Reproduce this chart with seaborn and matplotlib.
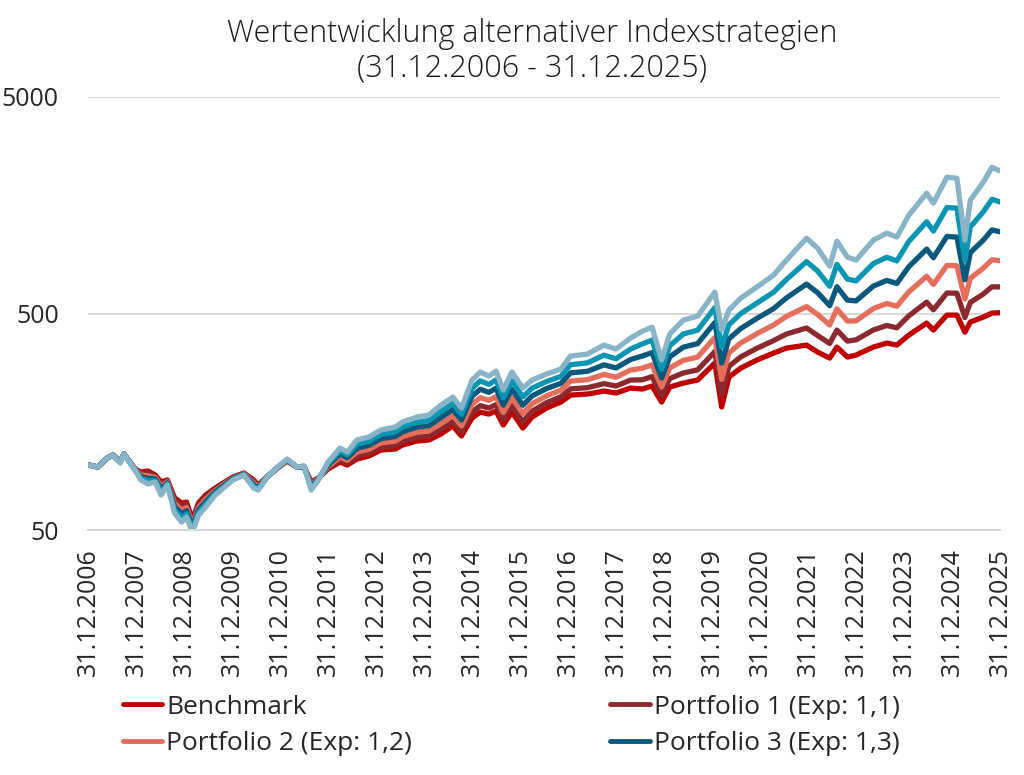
import pandas as pd
import seaborn as sns
import matplotlib.pyplot as plt
import matplotlib.dates as mdates
from matplotlib.lines import Line2D
from matplotlib.ticker import FixedLocator, NullLocator


dates = [
  "2006-12-31", "2007-03-15", "2007-05-27", "2007-07-09", "2007-09-02", "2007-10-01", "2007-12-24",
  "2008-02-06", "2008-04-01", "2008-05-26", "2008-07-09", "2008-08-26", "2008-10-20", "2008-12-13",
  "2009-01-19", "2009-03-04", "2009-04-20", "2009-06-13", "2009-08-25", "2009-11-06",
  "2010-01-08", "2010-04-01", "2010-06-13", "2010-07-19", "2010-10-01", "2010-12-31",
  "2011-02-24", "2011-05-08", "2011-07-02", "2011-08-26", "2011-10-19", "2011-12-31",
  "2012-04-01", "2012-05-26", "2012-08-07", "2012-11-06",
  "2013-02-06", "2013-05-27", "2013-07-20", "2013-11-06",
  "2014-02-06", "2014-05-08", "2014-08-07", "2014-10-12", "2014-12-31",
  "2015-03-04", "2015-05-08", "2015-07-02", "2015-08-26", "2015-10-31",
  "2016-01-22", "2016-04-01", "2016-07-19", "2016-11-06",
  "2017-01-19", "2017-05-27", "2017-10-01", "2017-12-31",
  "2018-04-20", "2018-07-20", "2018-10-01", "2018-12-13",
  "2019-02-13", "2019-05-27", "2019-09-13",
  "2020-01-22", "2020-03-14", "2020-05-08", "2020-08-07", "2020-12-06",
  "2021-04-13", "2021-07-20", "2021-12-20",
  "2022-03-14", "2022-06-14", "2022-08-08", "2022-10-27", "2022-12-31",
  "2023-05-12", "2023-08-22", "2023-11-07",
  "2024-02-06", "2024-06-21", "2024-08-11", "2024-11-22",
  "2025-02-06", "2025-04-08", "2025-05-19", "2025-08-26", "2025-10-31", "2025-12-31",
]

benchmark = [
  100, 97.7, 107.5, 111.0, 103.0, 112.2, 95.6,
  92.6, 93.6, 89.7, 83.3, 85.1, 70.3, 66.6,
  67.3, 55.6, 66.6, 72.5, 78.1, 83.3,
  87.9, 91.6, 85.1, 80.7, 88.8, 98.7,
  104.1, 97.7, 97.7, 83.3, 86.9, 95.6,
  103.0, 99.8, 106.3, 109.8,
  117.0, 118.3, 123.4, 128.8,
  130.2, 138.8, 151.1, 135.9, 164.4,
  175.2, 171.6, 177.1, 152.7, 175.2,
  147.9, 166.2, 182.9, 194.9,
  210.0, 212.3, 219.2, 214.6,
  226.3, 223.9, 231.2, 194.9,
  228.7, 238.6, 246.3,
  295.1, 184.9, 254.3, 279.8, 304.7,
  328.2, 346.1, 357.3,
  331.8, 311.2, 349.8, 314.5, 321.3,
  349.8, 365.0, 357.3,
  397.4, 451.6, 419.1, 491.6,
  491.6, 410.1, 456.5, 481.3, 502.3, 503.9,
]

portfolio1 = [
  100, 97.7, 107.5, 111.0, 103.0, 112.2, 95.4,
  91.3, 91.5, 88.7, 81.5, 84.4, 68.5, 64.5,
  65.6, 54.4, 65.3, 71.1, 77.2, 82.6,
  87.4, 91.3, 83.9, 79.9, 88.8, 98.9,
  104.5, 97.7, 97.9, 82.1, 86.6, 96.7,
  105.4, 102.0, 109.8, 113.4,
  121.0, 122.8, 128.4, 134.3,
  135.9, 145.7, 158.6, 142.5, 175.4,
  187.6, 183.0, 189.6, 162.0, 187.6,
  158.3, 176.9, 193.6, 206.2,
  224.3, 227.1, 237.1, 231.2,
  246.3, 247.1, 255.6, 209.3,
  250.3, 265.6, 274.5,
  333.2, 210.6, 285.1, 315.3, 345.1,
  374.8, 402.1, 428.6,
  395.6, 363.6, 419.1, 372.8, 377.6,
  419.5, 440.2, 429.5,
  487.5, 564.0, 520.1, 621.7,
  620.4, 479.2, 562.2, 615.0, 664.0, 663.4,
]

portfolio2 = [
  100, 97.7, 107.5, 111.0, 103.0, 112.2, 95.2,
  89.8, 89.1, 87.4, 79.2, 83.5, 66.3, 61.9,
  63.5, 53.1, 63.6, 69.3, 76.0, 81.7,
  86.8, 91.0, 82.5, 79.1, 88.8, 99.1,
  104.9, 97.7, 98.1, 80.8, 86.3, 98.2,
  108.6, 104.9, 114.4, 118.0,
  126.3, 128.6, 135.0, 141.5,
  143.3, 155.0, 168.7, 151.3, 190.2,
  204.3, 198.5, 206.5, 174.4, 204.3,
  172.4, 191.4, 208.2, 221.3,
  243.7, 247.3, 261.4, 254.0,
  273.9, 279.6, 289.5, 228.9,
  280.2, 303.7, 314.5,
  386.8, 248.2, 328.6, 365.7, 402.9,
  442.5, 484.9, 537.8,
  495.1, 442.5, 524.9, 461.2, 462.2,
  526.7, 556.2, 540.3,
  629.1, 742.6, 681.4, 833.8,
  830.5, 583.2, 727.1, 810.0, 886.0, 875.6,
]

portfolio3 = [
  100, 97.7, 107.5, 111.0, 103.0, 112.2, 95.0,
  88.2, 86.6, 86.0, 77.0, 82.6, 64.1, 59.3,
  61.4, 51.7, 61.9, 67.4, 74.9, 80.8,
  86.3, 90.6, 81.0, 78.3, 88.8, 99.3,
  105.3, 97.7, 98.3, 79.3, 85.9, 99.8,
  112.2, 107.9, 119.3, 123.1,
  132.1, 135.3, 142.1, 149.2,
  151.5, 165.2, 180.0, 161.0, 207.1,
  223.4, 216.1, 225.8, 188.8, 223.4,
  188.4, 208.0, 224.8, 237.9,
  265.9, 270.4, 289.5, 280.2,
  306.3, 318.3, 330.0, 251.6,
  315.3, 349.5, 363.0,
  453.9, 294.8, 381.6, 426.4, 474.1,
  526.7, 590.1, 683.6,
  624.3, 543.4, 664.8, 576.6, 571.6,
  669.1, 711.0, 688.2,
  822.3, 992.5, 904.9, 1135,
  1127, 715.6, 955.2, 1091, 1216, 1192,
]

portfolio4 = [
  100, 97.7, 107.5, 111.0, 102.5, 112.2, 94.8,
  86.7, 84.4, 84.6, 74.8, 81.7, 62.0, 56.9,
  59.4, 50.3, 60.3, 65.6, 73.7, 79.8,
  85.7, 90.1, 79.7, 77.4, 88.8, 99.6,
  105.9, 97.7, 98.5, 77.9, 85.5, 101.4,
  115.8, 111.1, 124.5, 128.5,
  138.2, 142.3, 149.5, 157.1,
  160.2, 176.3, 192.0, 171.3, 225.3,
  244.4, 235.1, 246.8, 204.1, 244.4,
  206.1, 226.0, 242.4, 256.2,
  290.1, 295.7, 321.0, 308.9,
  342.4, 361.9, 376.8, 276.3,
  354.7, 402.1, 418.7,
  532.0, 350.2, 443.4, 500.0, 557.9,
  627.0, 717.8, 868.2,
  785.7, 667.7, 842.8, 720.8, 706.6,
  850.0, 909.0, 874.7,
  1075, 1327, 1201, 1544,
  1533, 879.9, 1256, 1475, 1685, 1637,
]

portfolio5 = [
  100, 97.7, 107.5, 111.0, 101.9, 112.2, 94.6,
  85.1, 81.6, 83.3, 72.5, 80.7, 59.9, 54.4,
  57.4, 48.9, 58.6, 63.8, 72.5, 79.0,
  85.1, 89.7, 78.1, 76.5, 88.8, 99.8,
  106.3, 97.7, 98.7, 76.5, 85.1, 103.0,
  119.5, 114.6, 130.2, 134.5,
  144.8, 149.6, 157.6, 166.2,
  169.8, 188.8, 205.6, 182.9, 246.3,
  268.2, 257.0, 271.0, 221.5, 268.2,
  226.3, 246.3, 262.5, 276.8,
  318.0, 324.7, 357.3, 342.4,
  385.0, 413.9, 432.6, 304.7,
  401.7, 466.1, 486.3,
  627.9, 419.1, 518.4, 589.0, 662.2,
  752.1, 882.1, 1114,
  1002, 827.6, 1079, 910.8, 882.1,
  1091, 1175, 1127,
  1423, 1797, 1617, 2131,
  2108, 1091, 1669, 2021, 2370, 2277,
]

names = ["Benchmark", "Portfolio 1 (Exp: 1,1)", "Portfolio 2 (Exp: 1,2)",
         "Portfolio 3 (Exp: 1,3)", "Portfolio 4 (Exp: 1,4)", "Portfolio 5 (Exp: 1,5)"]
colors = ["#C00000", "#8B2A2E", "#E56D5B", "#0A587B", "#0A96B3", "#89B3C7"]
series = [benchmark, portfolio1, portfolio2, portfolio3, portfolio4, portfolio5]

frames = []
for name, vals in zip(names, series):
  frames.append(pd.DataFrame({"Datum": pd.to_datetime(dates), "Wert": vals, "Serie": name}))
df = pd.concat(frames, ignore_index=True)

sns.set_theme(style="white")
plt.rcParams['font.family'] = ['Open Sans', 'DejaVu Sans']
txt = "#262626"

fig = plt.figure(figsize=(10.24, 7.75), dpi=100)
ax = fig.add_axes([88/1024, 1 - 530/775, 912/1024, 433/775])

sns.lineplot(data=df, x="Datum", y="Wert", hue="Serie", hue_order=names,
             palette=colors, lw=3.8, estimator=None, legend=False, ax=ax)

ax.set_yscale("log")
ax.set_ylim(50, 5000)
ax.yaxis.set_major_locator(FixedLocator([50, 500, 5000]))
ax.yaxis.set_minor_locator(NullLocator())
ax.set_yticklabels(["50", "500", "5000"])
ax.grid(axis="y", color="#D9D9D9", lw=1.5)
ax.set_axisbelow(True)

ticks = pd.to_datetime([f"{y}-12-31" for y in range(2006, 2026)])
ax.set_xlim(ticks[0], ticks[-1])
ax.set_xticks(ticks)
ax.xaxis.set_major_formatter(mdates.DateFormatter("%d.%m.%Y"))
ax.tick_params(axis="x", rotation=90, length=7, width=1.5, color="#D9D9D9",
               labelsize=18, pad=6, labelcolor=txt)
ax.tick_params(axis="y", length=0, labelsize=18, pad=21, labelcolor=txt)
ax.set_xlabel("")
ax.set_ylabel("")

sns.despine(ax=ax, left=True)
ax.spines["bottom"].set_color("#D9D9D9")
ax.spines["bottom"].set_linewidth(1.5)

for yy, s in [(34, "Wertentwicklung alternativer Indexstrategien"), (69, "(31.12.2006 - 31.12.2025)")]:
  fig.text(532/1024, 1 - yy/775, s, ha="center", va="center", fontsize=22,
           fontweight=300, color="#1a1a1a")

# legend is filled column by column, so order handles to read row-wise
order = [0, 2, 1, 3]
handles = [Line2D([], [], color=colors[i], lw=3.5) for i in order]
fig.legend(handles, [names[i] for i in order], ncol=2, loc="upper left", mode="expand",
           bbox_to_anchor=(112/1024, 1 - 684/775, 798/1024, 0),
           frameon=False, fontsize=19, handlelength=1.5, handletextpad=0.15,
           labelspacing=0.45, borderaxespad=0, labelcolor=txt)

fig.savefig("out.png", dpi=100)
